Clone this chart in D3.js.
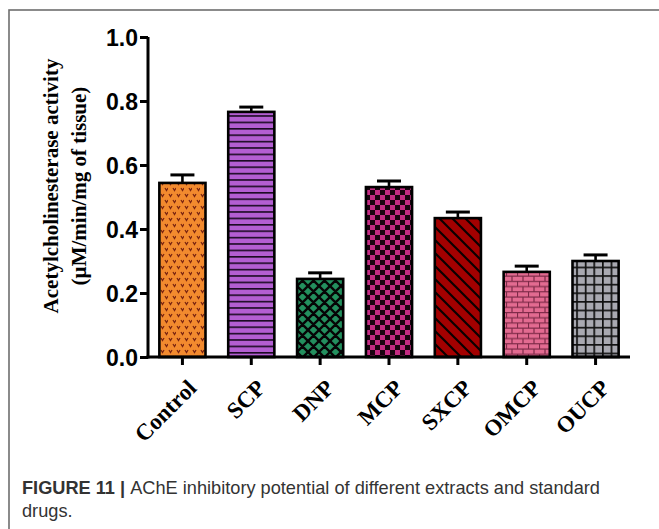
<!DOCTYPE html>
<html><head><meta charset="utf-8">
<script src="https://cdn.jsdelivr.net/npm/d3@7"></script>
<style>body{margin:0;background:#fff}svg{display:block}</style>
</head><body>
<script>
const categories = ["Control","SCP","DNP","MCP","SXCP","OMCP","OUCP"];
const means = [0.544, 0.766, 0.244, 0.531, 0.434, 0.266, 0.300];
const errors = [0.025, 0.015, 0.019, 0.019, 0.019, 0.018, 0.019];
const yTicks = [0.0, 0.2, 0.4, 0.6, 0.8, 1.0];
const fillColors = ["#f28a2e","#b35ed2","#23905e","#c42b82","#a30000","#e36b91","#a9a9b1"];
const patternIds = ["pCtrl","pSCP","pDNP","pMCP","pSXCP","pOMCP","pOUCP"];

const W = 659, H = 529;
const svg = d3.select("body").append("svg").attr("width", W).attr("height", H);
const defs = svg.append("defs");

function pat(id, w, h, bg) {
  const p = defs.append("pattern").attr("id", id).attr("patternUnits", "userSpaceOnUse")
    .attr("width", w).attr("height", h);
  p.append("rect").attr("width", w).attr("height", h).attr("fill", bg);
  return p;
}
{
  const p = pat("pCtrl", 8, 12, fillColors[0]);
  [[0,0],[4,6]].forEach(([dx,dy]) => {
    p.append("path").attr("d", `M${dx+1},${dy+2} L${dx+2.5},${dy+4.5} L${dx+4},${dy+2}`)
      .attr("fill", "none").attr("stroke", "#7a2410").attr("stroke-width", 1.3);
  });
}
{
  const p = pat("pSCP", 10, 6.4, fillColors[1]);
  p.append("rect").attr("y", 0).attr("width", 10).attr("height", 1.6).attr("fill", "#1a0a22");
}
{
  const s = 11;
  const p = pat("pDNP", s, s, fillColors[2]);
  p.append("path").attr("d", `M0,0 L${s},${s} M${-s/2},${s/2} L${s/2},${s*1.5} M${s/2},${-s/2} L${s*1.5},${s/2}
    M0,${s} L${s},0 M${-s/2},${s/2} L${s/2},${-s/2} M${s/2},${s*1.5} L${s*1.5},${s/2}`)
    .attr("stroke", "#050505").attr("stroke-width", 2.4);
}
{
  const p = pat("pMCP", 10, 10, fillColors[3]);
  p.append("rect").attr("x", 0).attr("y", 0).attr("width", 5).attr("height", 5).attr("fill", "#1a0410");
  p.append("rect").attr("x", 5).attr("y", 5).attr("width", 5).attr("height", 5).attr("fill", "#1a0410");
}
{
  const s = 13;
  const p = pat("pSXCP", s, s, fillColors[4]);
  p.append("path").attr("d", `M0,0 L${s},${s} M${-s},0 L0,${s} M${s},0 L${2*s},${s} M0,${-s} L${s},0 M0,${s} L${s},${2*s}`)
    .attr("stroke", "#0a0000").attr("stroke-width", 2.2);
}
{
  const bw = 11, bh = 5.2;
  const p = pat("pOMCP", bw, bh * 2, fillColors[5]);
  p.append("path").attr("d", `M0,0.5 H${bw} M0,${bh+0.5} H${bw} M0.5,0 V${bh} M${bw/2+0.5},${bh} V${2*bh}`)
    .attr("stroke", "#7e2a48").attr("stroke-width", 1.2);
}
{
  const s = 8.6;
  const p = pat("pOUCP", s, s, fillColors[6]);
  p.append("path").attr("d", `M0,0.8 H${s} M0.8,0 V${s}`).attr("stroke", "#111").attr("stroke-width", 1.8);
}

// frame
svg.append("rect").attr("x", 9).attr("y", 10).attr("width", 720).attr("height", 620)
  .attr("fill", "none").attr("stroke", "#6e6e6e").attr("stroke-width", 1.6);

const x = d3.scaleBand().domain(categories).range([148, 630]).paddingInner(0.33).paddingOuter(0.165);
const y = d3.scaleLinear().domain([0, 1]).range([357, 37]);

const g = svg.append("g");

g.selectAll("rect.bar").data(categories).join("rect").attr("class", "bar")
  .attr("x", d => x(d)).attr("width", x.bandwidth())
  .attr("y", (d, i) => y(means[i])).attr("height", (d, i) => y(0) - y(means[i]))
  .attr("fill", (d, i) => `url(#${patternIds[i]})`)
  .attr("stroke", "#000").attr("stroke-width", 2.6);

const cap = 12;
categories.forEach((c, i) => {
  const cx = x(c) + x.bandwidth() / 2;
  g.append("line").attr("x1", cx).attr("x2", cx).attr("y1", y(means[i])).attr("y2", y(means[i] + errors[i]))
    .attr("stroke", "#000").attr("stroke-width", 2.6);
  g.append("line").attr("x1", cx - cap).attr("x2", cx + cap).attr("y1", y(means[i] + errors[i])).attr("y2", y(means[i] + errors[i]))
    .attr("stroke", "#000").attr("stroke-width", 3);
});

const ya = svg.append("g").attr("transform", "translate(148,0)")
  .call(d3.axisLeft(y).tickValues(yTicks).tickFormat(d3.format(".1f")).tickSize(8).tickSizeOuter(0));
ya.select(".domain").attr("stroke-width", 3).attr("d", `M0,${y(1)}V${y(0)+1.5}`);
ya.selectAll(".tick line").attr("stroke-width", 3);
ya.selectAll(".tick text").attr("font-family", "Liberation Sans, Arial, sans-serif").attr("font-weight", "bold")
  .attr("font-size", 23).attr("fill", "#000").attr("x", -10).attr("dy", "0.36em");

const xa = svg.append("g").attr("transform", `translate(0,${y(0)})`)
  .call(d3.axisBottom(x).tickSize(8).tickSizeOuter(0));
xa.select(".domain").attr("stroke-width", 3).attr("d", "M146.5,0H630");
xa.selectAll(".tick line").attr("stroke-width", 3);
xa.selectAll(".tick text").attr("font-family", "Liberation Serif, Times New Roman, serif").attr("font-weight", "bold")
  .attr("font-size", 23).attr("fill", "#000").attr("text-anchor", "end")
  .attr("transform", "translate(4,21) rotate(-45)").attr("x", 0).attr("y", 0).attr("dy", "0.7em");

const yt = svg.append("text").attr("transform", "translate(58,186) rotate(-90)")
  .attr("text-anchor", "middle").attr("font-family", "Liberation Serif, Times New Roman, serif")
  .attr("font-weight", "bold").attr("font-size", 21).attr("fill", "#000");
yt.append("tspan").attr("x", 0).attr("y", 0).text("Acetylcholinesterase  activity");
yt.append("tspan").attr("x", 0).attr("y", 28).text("(µM/min/mg of tissue)");

const capFont = "Liberation Sans, Arial, sans-serif";
const cap1 = svg.append("text").attr("x", 22).attr("y", 494).attr("font-family", capFont)
  .attr("font-size", 18.2).attr("fill", "#333");
cap1.append("tspan").attr("font-weight", "bold").text("FIGURE 11 | ");
cap1.append("tspan").text("AChE inhibitory potential of different extracts and standard");
svg.append("text").attr("x", 22).attr("y", 517).attr("font-family", capFont)
  .attr("font-size", 18.2).attr("fill", "#333").text("drugs.");
</script>
</body></html>
